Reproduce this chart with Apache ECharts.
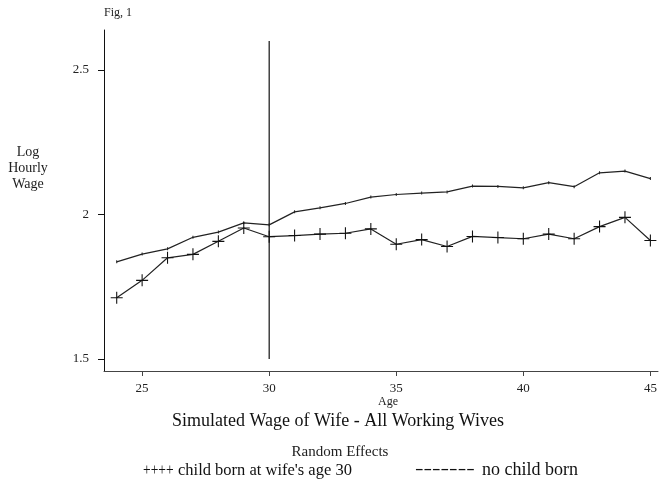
<!DOCTYPE html>
<html>
<head>
<meta charset="utf-8">
<script src="https://cdn.jsdelivr.net/npm/echarts@6/dist/echarts.min.js"></script>
<style>html,body{margin:0;padding:0;background:#fff;}#c{width:670px;height:487px;}</style>
</head>
<body>
<div id="c"></div>
<script>
var ages = [24,25,26,27,28,29,30,31,32,33,34,35,36,37,38,39,40,41,42,43,44,45];
var childBorn = [1.712,1.772,1.850,1.862,1.907,1.953,1.923,1.927,1.932,1.935,1.950,1.897,1.913,1.889,1.924,1.920,1.916,1.932,1.916,1.958,1.990,1.910];
var noChild = [1.836,1.863,1.881,1.921,1.939,1.971,1.964,2.009,2.023,2.038,2.060,2.069,2.074,2.078,2.098,2.097,2.092,2.110,2.096,2.144,2.150,2.124];
var xTicks = [25,30,35,40,45];
var yTicks = [1.5,2,2.5];
var yTickLabels = ['1.5','2','2.5'];
var birthAge = 30;
var birthLineRange = [1.5,2.6];

var FONT = 'Liberation Serif';
var chart = echarts.init(document.getElementById('c'));
var plus = 'path://M0,4.55h10v0.9h-10z M4.55,0h0.9v10h-0.9z';
chart.setOption({
  animation:false,
  grid:{left:104,right:12,top:30,bottom:116},
  xAxis:{type:'value',min:23.5,max:45.3,
    axisLine:{lineStyle:{color:'#444',width:1}},
    axisTick:{show:true,length:5,customValues:xTicks,lineStyle:{color:'#444'}},
    axisLabel:{customValues:xTicks,margin:11,fontFamily:FONT,fontSize:13,color:'#222'},
    splitLine:{show:false}},
  yAxis:{type:'value',min:1.4585,max:2.638,
    axisLine:{show:true,lineStyle:{color:'#111',width:1}},
    axisTick:{show:true,length:6,customValues:yTicks,lineStyle:{color:'#111'}},
    axisLabel:{customValues:yTicks,margin:15,fontFamily:FONT,fontSize:13,color:'#222',
      formatter:function(v){var i=yTicks.indexOf(v);return i>=0?yTickLabels[i]:'';}},
    splitLine:{show:false}},
  series:[
    {type:'line',data:ages.map(function(a,i){return [a,noChild[i]];}),
      symbol:'path://M4.5,0h1v10h-1z',symbolSize:[1,3],itemStyle:{color:'#222'},
      lineStyle:{color:'#222',width:1.2}},
    {type:'line',data:ages.map(function(a,i){return [a,childBorn[i]];}),
      symbol:plus,symbolSize:12,itemStyle:{color:'#111'},
      lineStyle:{color:'#222',width:1.2}},
    {type:'line',data:[[birthAge,birthLineRange[0]],[birthAge,birthLineRange[1]]],
      symbol:'none',lineStyle:{color:'#111',width:1.2}}
  ],
  graphic:[
    {type:'text',x:104,y:7,style:{text:'Fig, 1',font:'12px '+FONT,fill:'#222'}},
    {type:'text',x:28,y:144,style:{text:'Log\nHourly\nWage',font:'14px '+FONT,fill:'#222',align:'center',lineHeight:16}},
    {type:'text',x:388,y:396,style:{text:'Age',font:'12px '+FONT,fill:'#222',align:'center'}},
    {type:'text',x:338,y:412,style:{text:'Simulated Wage of Wife - All Working Wives',font:'18px '+FONT,fill:'#111',align:'center'}},
    {type:'text',x:340,y:445,style:{text:'Random Effects',font:'15px '+FONT,fill:'#222',align:'center'}},
    {type:'text',x:143,y:462,scaleX:0.82,style:{text:'++++',font:'16.5px '+FONT,fill:'#111'}},
    {type:'text',x:178,y:462,style:{text:"child born at wife's age 30",font:'16.5px '+FONT,fill:'#111'}},
    {type:'text',x:415,y:462,scaleX:1.6,style:{text:'-------',font:'16px '+FONT,fill:'#111'}},
    {type:'text',x:482,y:461,style:{text:'no child born',font:'18px '+FONT,fill:'#111'}}
  ]
});
</script>
</body>
</html>
